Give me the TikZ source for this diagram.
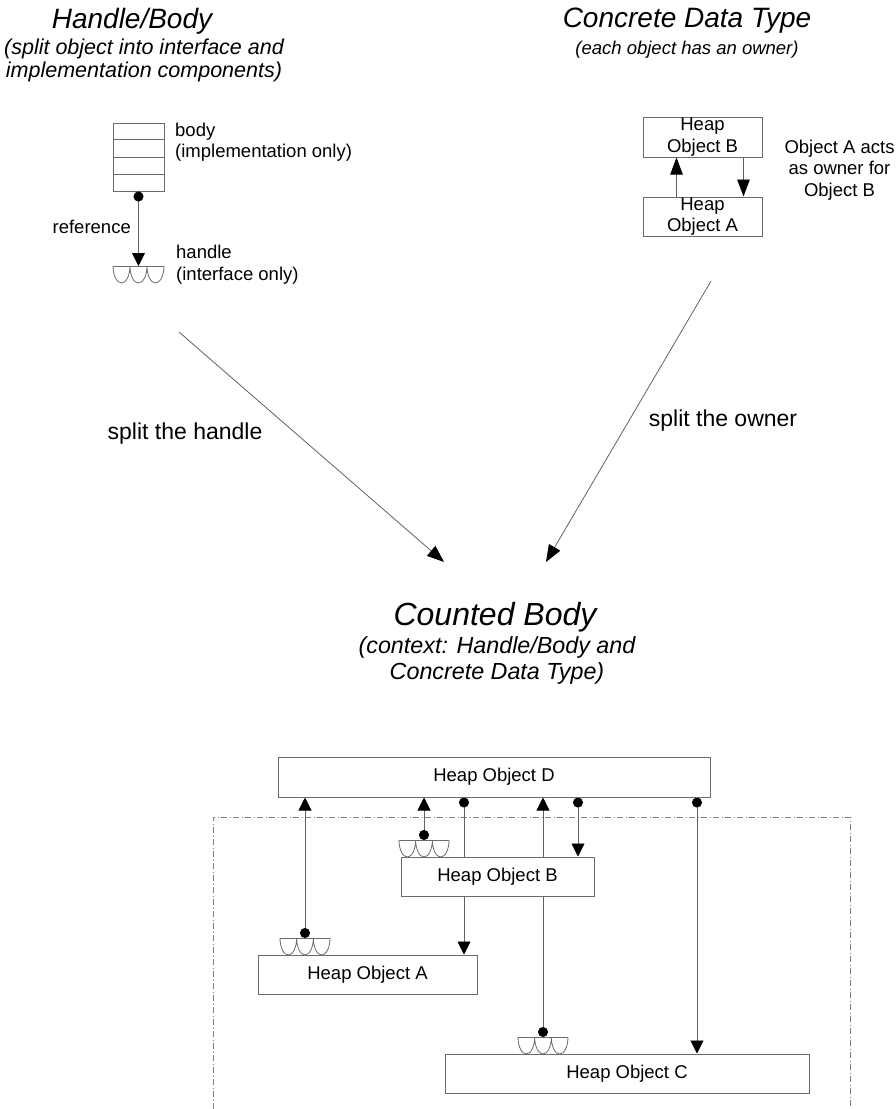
\documentclass[tikz,border=0pt]{standalone}
\usepackage{fontspec}
\setmainfont{Liberation Sans}
\usetikzlibrary{arrows.meta,calc}
\pgfdeclarelayer{bg}
\pgfsetlayers{bg,main}
\definecolor{boxgray}{gray}{0.42}
\definecolor{linegray}{gray}{0.38}
\definecolor{framegray}{gray}{0.5}
% three cups hanging below the top edge of a handle node
\newcommand\drawcups[2]{%
  \draw[cupline] (#1.north west) -- (#1.north east);
  \draw[cupline] (#1.north west)
     arc[start angle=180,end angle=0,x radius=#2,y radius=17]
     arc[start angle=180,end angle=0,x radius=#2,y radius=17]
     arc[start angle=180,end angle=0,x radius=#2,y radius=17];}
\begin{document}
\begin{tikzpicture}[x=1pt,y=-1pt,
  lbl/.style={font=\fontsize{18.5}{21.5}\selectfont, inner sep=0pt},
  ttl/.style={font=\fontsize{28}{32}\selectfont\itshape, inner sep=0pt},
  subttl/.style={font=\fontsize{21.5}{23.5}\selectfont\itshape, align=center, inner sep=0pt},
  subttlb/.style={font=\fontsize{23.3}{26}\selectfont\itshape, align=center, inner sep=0pt},
  midlbl/.style={font=\fontsize{23}{26}\selectfont, inner sep=0pt},
  heap/.style={draw=boxgray, line width=1pt, fill=white, inner sep=0pt,
    font=\fontsize{18.5}{21.5}\selectfont, align=center},
  handle/.style={minimum width=50pt, minimum height=17pt, inner sep=0pt, outer sep=0pt},
  cupline/.style={draw=boxgray, line width=0.8pt},
  conn/.style={draw=linegray, line width=0.9pt,
    arrows={Circle[length=10pt,color=black]-Triangle[length=13pt,width=13pt,color=black]}},
  arrlong/.style={draw=linegray, line width=0.9pt,
    arrows={-Triangle[length=17pt,width=12.5pt,color=black]}},
  bigarr/.style={draw=linegray, line width=0.8pt,
    arrows={-Triangle[length=17pt,width=13pt,color=black]}},
  frame/.style={draw=framegray, line width=0.8pt,
    dash pattern=on 6pt off 2.5pt on 1pt off 2.5pt}]
\useasboundingbox (0,0) rectangle (896,1109);

% ---- Handle/Body ----
\node[ttl] (t1) at (132,21) {Handle/Body};
\node[subttl] (s1) at (144,60.5) {(split object into interface and\\implementation components)};
\node[heap, minimum width=51pt, minimum height=68pt] (body) at (138.5,157) {};
\foreach \f in {0.25,0.5,0.75}
  \draw[draw=boxgray, line width=1pt] ($(body.north west)!\f!(body.south west)$) -- ($(body.north east)!\f!(body.south east)$);
\node[handle, minimum width=51pt] (hH) at (138.5,274.5) {};
\drawcups{hH}{8.5}
\draw[conn] (body.south) -- (hH.north);
\node[lbl, anchor=east] (ref) at (131,227) {reference};
\node[lbl, anchor=west, align=left] (bodyl) at (175,142) {body\\(implementation only)};
\node[lbl, anchor=west, align=left] (handl) at (176,264.5) {handle\\(interface only)};

% ---- Concrete Data Type ----
\node[ttl] (t2) at (687,21) {Concrete Data Type};
\node[subttl, font=\fontsize{18.5}{21.5}\selectfont\itshape] (s2) at (687,50) {(each object has an owner)};
\node[heap, minimum width=119pt, minimum height=40pt] (tB) at (702.5,137) {Heap\\Object B};
\node[heap, minimum width=119pt, minimum height=39pt] (tA) at (702.5,216.5) {Heap\\Object A};
\draw[arrlong] ([xshift=-26pt]tA.north) -- ([xshift=-26pt]tB.south);
\draw[arrlong] ([xshift=41pt]tB.south) -- ([xshift=41pt]tA.north);
\node[lbl, align=center] (own) at (839.5,170) {Object A acts\\as owner for\\Object B};

% ---- the two splits ----
\coordinate (hsA) at (179,332);
\coordinate (hsB) at (444,562);
\coordinate (osA) at (711,281);
\coordinate (osB) at (546,562);
\draw[bigarr] (hsA) -- (hsB);
\draw[bigarr] (osA) -- (osB);
\node[midlbl] (sh) at (185,434) {split the handle};
\node[midlbl] (so) at (723,421) {split the owner};

% ---- Counted Body ----
\node[ttl, font=\fontsize{32}{36}\selectfont\itshape] (t3) at (495,617) {Counted Body};
\node[subttlb] (s3) at (497,660) {(context: Handle/Body and\\Concrete Data Type)};

\node[heap, minimum width=432pt, minimum height=40pt] (D) at (494,777) {Heap Object D};
\node[heap, minimum width=193pt, minimum height=39pt] (B) at (497.5,876.5) {Heap Object B};
\node[heap, minimum width=219pt, minimum height=39pt] (A) at (367.5,974.5) {Heap Object A};
\node[heap, minimum width=364pt, minimum height=39pt] (C) at (627,1073.5) {Heap Object C};
\node[handle] (hB) at (424,848.5) {};
\node[handle] (hA) at (305,946.5) {};
\node[handle] (hC) at (543,1045.5) {};
\drawcups{hB}{8.333}
\drawcups{hA}{8.333}
\drawcups{hC}{8.333}
\coordinate (dA) at ([xshift=-30pt]D.south);
\coordinate (dB) at ([xshift=84pt]D.south);
\coordinate (dC) at ([xshift=203pt]D.south);

\begin{pgfonlayer}{bg}
  \draw[frame] (213,1109) -- (213,817) -- (850,817) -- (850,1109);
  \draw[conn] (hA.north) -- (hA.north |- D.south);
  \draw[conn] (hB.north) -- (hB.north |- D.south);
  \draw[conn] (hC.north) -- (hC.north |- D.south);
  \draw[conn] (dA) -- (dA |- A.north);
  \draw[conn] (dB) -- (dB |- B.north);
  \draw[conn] (dC) -- (dC |- C.north);
\end{pgfonlayer}
\end{tikzpicture}
\end{document}
